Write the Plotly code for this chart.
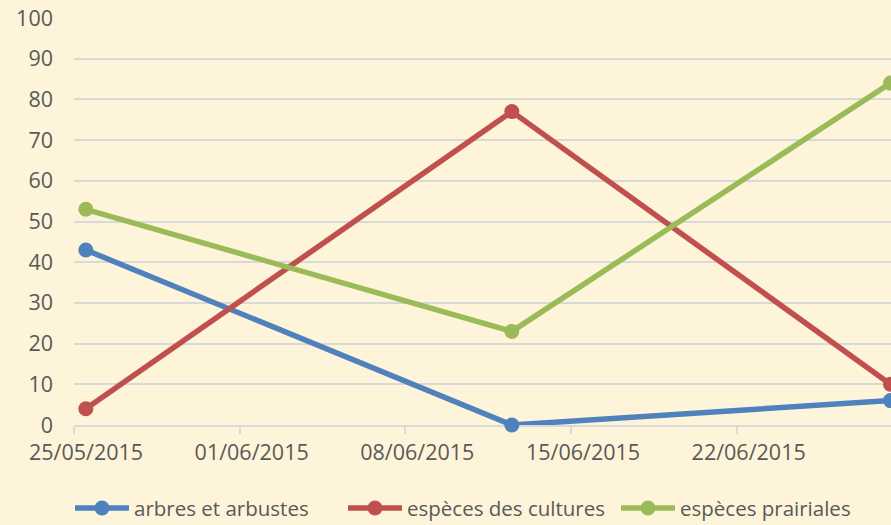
import plotly.graph_objects as go

dates = ["2015-05-25 12:00", "2015-06-12 12:00", "2015-06-28 12:00"]
series_names = ["arbres et arbustes", "espèces des cultures", "espèces prairiales"]
arbres = [43, 0, 6]
cultures = [4, 77, 10]
prairiales = [53, 23, 84]
colors = ["#4F81BD", "#C0504D", "#9BBB59"]
y_ticks = list(range(0, 101, 10))

fig = go.Figure()
for name, vals, c in zip(series_names, [arbres, cultures, prairiales], colors):
    fig.add_trace(go.Scatter(
        x=dates, y=vals, name=name, mode="lines+markers",
        line=dict(color=c, width=5.5),
        marker=dict(color=c, size=15),
        cliponaxis=False,
    ))

font = dict(family="Open Sans, sans-serif", size=21.5, color="#595959")
lfont = dict(family="Open Sans, sans-serif", size=20.5, color="#595959")
bg = "#FEF4DA"
fig.update_layout(
    width=891, height=525,
    margin=dict(l=74, r=0, t=18, b=100),
    paper_bgcolor=bg, plot_bgcolor=bg,
    font=font,
    showlegend=True,
    legend=dict(orientation="h", x=70 / 891, xanchor="left", xref="container",
                y=0.032, yref="container", yanchor="middle",
                font=lfont, itemwidth=54, tracegroupgap=0,
                entrywidth=204, entrywidthmode="pixels"),
    xaxis=dict(
        type="date",
        range=["2015-05-25 00:00", "2015-06-28 12:30"],
        tick0="2015-05-25", dtick=7 * 24 * 3600 * 1000,
        tickformat="%d/%m/%Y",
        ticklabelshift=12,
        showgrid=False, zeroline=False,
        showline=True, linecolor="#D9D9D9", linewidth=1.5,
        ticks="outside", ticklen=7, tickcolor="#D9D9D9", tickwidth=1.5,
        tickfont=font, layer="below traces",
    ),
    yaxis=dict(
        range=[0, 100], tickvals=y_ticks,
        showgrid=True, gridcolor="#D9D9D9", gridwidth=1.5,
        zeroline=False, showline=False, ticks="", ticklen=0,
        ticklabelstandoff=20,
        tickfont=font, layer="below traces",
    ),
)
fig.write_html(
    "out.html",
    config={"displayModeBar": False},
    post_script="document.body.style.margin='0';document.body.style.overflow='hidden';",
)
